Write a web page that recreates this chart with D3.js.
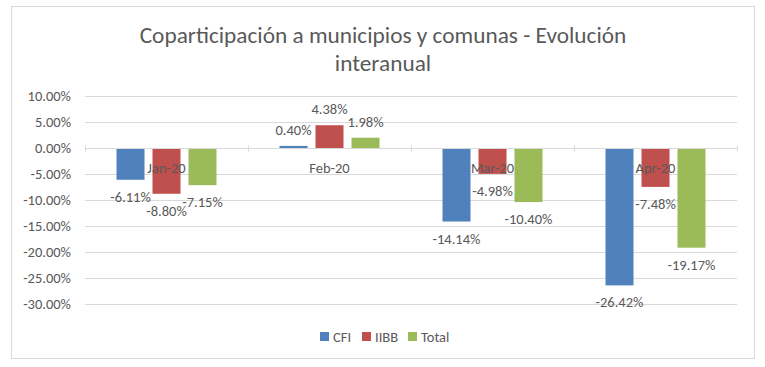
<!DOCTYPE html>
<html>
<head>
<meta charset="utf-8">
<script src="https://cdn.jsdelivr.net/npm/d3@7"></script>
<style>
  body { margin: 0; background: #fff; }
  text { font-family: Carlito, "Open Sans", "Liberation Sans", sans-serif; fill: #595959; }
</style>
</head>
<body>
<div id="chart"></div>
<script>
const categories = ['Jan-20', 'Feb-20', 'Mar-20', 'Apr-20'];
const seriesNames = ['CFI', 'IIBB', 'Total'];
const cfi = [-6.11, 0.40, -14.14, -26.42];
const iibb = [-8.80, 4.38, -4.98, -7.48];
const total = [-7.15, 1.98, -10.40, -19.17];
const yTicks = [10, 5, 0, -5, -10, -15, -20, -25, -30];
const colors = ['#4F81BD', '#C0504D', '#9BBB59'];

const width = 765;
const height = 367;

const svg = d3.select('#chart')
    .append('svg')
    .attr('width', width)
    .attr('height', height);

// outer frame
svg.append('rect')
    .attr('x', 11.5).attr('y', 6.5)
    .attr('width', 743).attr('height', 352)
    .attr('fill', 'white')
    .attr('stroke', '#d9d9d9');

// title
svg.append('text')
    .attr('x', 383).attr('y', 43)
    .attr('text-anchor', 'middle')
    .style('font-size', '23.3px')
    .text('Coparticipación a municipios y comunas - Evolución');
svg.append('text')
    .attr('x', 383).attr('y', 71)
    .attr('text-anchor', 'middle')
    .style('font-size', '23.3px')
    .text('interanual');

const y = d3.scaleLinear()
    .domain([-30, 10])
    .range([304, 96]);

const x = d3.scaleBand()
    .domain(categories)
    .range([85, 737]);

const xs = d3.scaleBand()
    .domain(seriesNames)
    .range([0, x.bandwidth()])
    .paddingInner(0.222)
    .paddingOuter(0.875);

// gridlines
svg.append('g')
    .selectAll('line')
    .data(yTicks)
    .enter()
    .append('line')
    .attr('x1', 85).attr('x2', 737)
    .attr('y1', d => Math.round(y(d)) + 0.5)
    .attr('y2', d => Math.round(y(d)) + 0.5)
    .attr('stroke', '#d9d9d9');

// y tick labels
svg.append('g')
    .selectAll('text')
    .data(yTicks)
    .enter()
    .append('text')
    .attr('x', 71)
    .attr('y', d => y(d))
    .attr('dy', '0.35em')
    .attr('text-anchor', 'end')
    .style('font-size', '14.5px')
    .text(d => d.toFixed(2) + '%');

const seriesData = [cfi, iibb, total];

// bars
seriesData.forEach((vals, s) => {
  svg.append('g')
      .selectAll('rect')
      .data(vals)
      .enter()
      .append('rect')
      .attr('x', (d, i) => x(categories[i]) + xs(seriesNames[s]))
      .attr('width', xs.bandwidth())
      .attr('y', d => y(Math.max(0, d)))
      .attr('height', d => Math.abs(y(d) - y(0)))
      .attr('fill', colors[s]);
});

// zero axis line and ticks
const zeroY = Math.round(y(0)) + 0.5;
svg.append('line')
    .attr('x1', 85).attr('x2', 737)
    .attr('y1', zeroY).attr('y2', zeroY)
    .attr('stroke', '#d9d9d9');
svg.append('g')
    .selectAll('line')
    .data(categories.concat(['end']))
    .enter()
    .append('line')
    .attr('x1', (d, i) => Math.round(85 + i * x.bandwidth()) + 0.5)
    .attr('x2', (d, i) => Math.round(85 + i * x.bandwidth()) + 0.5)
    .attr('y1', zeroY - 3).attr('y2', zeroY + 3)
    .attr('stroke', '#d9d9d9');

// category labels
svg.append('g')
    .selectAll('text')
    .data(categories)
    .enter()
    .append('text')
    .attr('x', d => x(d) + x.bandwidth() / 2)
    .attr('y', zeroY + 19)
    .attr('dy', '0.35em')
    .attr('text-anchor', 'middle')
    .style('font-size', '14.5px')
    .text(d => d);

// value labels
seriesData.forEach((vals, s) => {
  svg.append('g')
      .selectAll('text')
      .data(vals)
      .enter()
      .append('text')
      .attr('x', (d, i) => x(categories[i]) + xs(seriesNames[s]) + xs.bandwidth() / 2)
      .attr('y', d => d >= 0 ? y(d) - 16 : y(d) + 17)
      .attr('dy', '0.35em')
      .attr('text-anchor', 'middle')
      .style('font-size', '14.5px')
      .text(d => d.toFixed(2) + '%');
});

// legend
const legend = svg.append('g');
const legendX = [320, 362, 408];
seriesNames.forEach((name, s) => {
  legend.append('rect')
      .attr('x', legendX[s]).attr('y', 332)
      .attr('width', 9).attr('height', 9)
      .attr('fill', colors[s]);
  legend.append('text')
      .attr('x', legendX[s] + 13).attr('y', 337)
      .attr('dy', '0.35em')
      .style('font-size', '14.5px')
      .text(name);
});
</script>
</body>
</html>
